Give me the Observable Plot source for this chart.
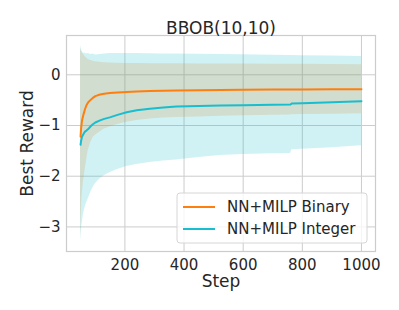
<!DOCTYPE html>
<html><head><meta charset="utf-8">
<script src="https://cdn.jsdelivr.net/npm/d3@7"></script>
<script src="https://cdn.jsdelivr.net/npm/@observablehq/plot@0.6"></script>
<style>
body{margin:0;background:#fff;}
#chart svg{font-family:"DejaVu Sans";display:block;}
</style>
</head><body><div id="chart"></div>
<script>
const title = "BBOB(10,10)";
const xLabel = "Step";
const yLabel = "Best Reward";
const seriesNames = ["NN+MILP Binary", "NN+MILP Integer"];
const seriesColors = ["#ff7f0e", "#17becf"];
const xTicks = [200, 400, 600, 800, 1000];
const yTicks = [-3, -2, -1, 0];

const steps = [50, 52, 55, 60, 65, 70, 76, 85, 93, 100, 116, 130, 149, 175, 206, 240, 284, 330, 374, 450, 523, 600, 700, 760, 765, 800, 900, 1000];

const binaryMean = [-1.22, -1.05, -0.90, -0.78, -0.68, -0.60, -0.54, -0.49, -0.45, -0.42, -0.39, -0.375, -0.36, -0.35, -0.34, -0.33, -0.32, -0.315, -0.31, -0.305, -0.30, -0.295, -0.29, -0.29, -0.29, -0.288, -0.285, -0.283];
const binaryUpper = [0.52, 0.48, 0.44, 0.40, 0.36, 0.33, 0.30, 0.28, 0.265, 0.255, 0.245, 0.24, 0.235, 0.23, 0.225, 0.222, 0.22, 0.218, 0.217, 0.215, 0.214, 0.212, 0.21, 0.208, 0.208, 0.207, 0.204, 0.20];
const binaryLower = [-3.25, -2.8, -2.4, -2.1, -1.89, -1.70, -1.49, -1.33, -1.23, -1.19, -1.13, -1.07, -1.03, -0.98, -0.935, -0.90, -0.87, -0.85, -0.84, -0.83, -0.82, -0.81, -0.80, -0.795, -0.79, -0.785, -0.78, -0.77];

const integerMean = [-1.38, -1.30, -1.22, -1.17, -1.12, -1.10, -1.07, -1.01, -0.97, -0.94, -0.90, -0.87, -0.84, -0.79, -0.74, -0.70, -0.67, -0.645, -0.625, -0.615, -0.605, -0.60, -0.59, -0.585, -0.565, -0.56, -0.54, -0.52];
const integerUpper = [0.58, 0.52, 0.47, 0.42, 0.43, 0.41, 0.42, 0.40, 0.41, 0.39, 0.40, 0.41, 0.42, 0.42, 0.42, 0.42, 0.415, 0.41, 0.41, 0.405, 0.40, 0.395, 0.385, 0.38, 0.38, 0.375, 0.37, 0.36];
const integerLower = [-3.29, -3.1, -2.95, -2.75, -2.62, -2.53, -2.45, -2.31, -2.22, -2.15, -2.05, -1.99, -1.93, -1.87, -1.81, -1.77, -1.73, -1.70, -1.68, -1.63, -1.59, -1.57, -1.555, -1.55, -1.48, -1.47, -1.44, -1.40];

const means = [binaryMean, integerMean];
const uppers = [binaryUpper, integerUpper];
const lowers = [binaryLower, integerLower];

const rows = [];
seriesNames.forEach((s, i) => {
  steps.forEach((st, j) => {
    rows.push({series: s, step: st, mean: means[i][j], lo: lowers[i][j], hi: uppers[i][j]});
  });
});

const W = 399, H = 310, mL = 66, mR = 24, mT = 35, mB = 59;
const ink = "#262626";
const fmt = d => d < 0 ? "\u2212" + Math.abs(d) : String(d);

const chart = Plot.plot({
  width: W, height: H,
  marginLeft: mL, marginRight: mR, marginTop: mT, marginBottom: mB,
  style: {fontFamily: "DejaVu Sans", fontSize: "15px", color: ink, background: "#fff"},
  x: {domain: [2.5, 1047.5], label: null},
  y: {domain: [-3.485, 0.775], label: null},
  color: {domain: seriesNames, range: seriesColors},
  marks: [
    Plot.gridX(xTicks, {stroke: "#cccccc", strokeOpacity: 1, strokeWidth: 1}),
    Plot.gridY(yTicks, {stroke: "#cccccc", strokeOpacity: 1, strokeWidth: 1}),
    Plot.areaY(rows, {x: "step", y1: "lo", y2: "hi", z: "series", fill: "series", fillOpacity: 0.2}),
    Plot.lineY(rows, {x: "step", y: "mean", z: "series", stroke: "series", strokeWidth: 2}),
    Plot.frame({stroke: "#cccccc", strokeWidth: 1.2}),
    Plot.axisX({ticks: xTicks, tickSize: 0, tickPadding: 8, fontSize: 15, label: null, tickFormat: fmt}),
    Plot.axisY({ticks: yTicks, tickSize: 0, tickPadding: 6, fontSize: 15, label: null, tickFormat: fmt}),
    Plot.text([title], {frameAnchor: "top", dy: -2, lineAnchor: "bottom", textAnchor: "middle", fontSize: 17, fill: ink}),
    Plot.text([xLabel], {frameAnchor: "bottom", dy: 35, lineAnchor: "bottom", textAnchor: "middle", fontSize: 17, fill: ink}),
    Plot.text([yLabel], {frameAnchor: "left", dx: -34, rotate: -90, lineAnchor: "bottom", textAnchor: "middle", fontSize: 17, fill: ink})
  ]
});

document.getElementById("chart").appendChild(chart);

// legend (lower right, inside the frame)
const svg = d3.select(chart);
const frameRight = W - mR, frameBottom = H - mB;
const boxW = 190, boxH = 50, inset = 8;
const bx = frameRight - inset - boxW, by = frameBottom - inset - boxH;
const lg = svg.append("g");
lg.append("rect").attr("x", bx).attr("y", by).attr("width", boxW).attr("height", boxH)
  .attr("rx", 3).attr("fill", "#fff").attr("fill-opacity", 0.8).attr("stroke", "#d6d6d6").attr("stroke-width", 1);
seriesNames.forEach((s, i) => {
  const ry = by + 14 + i * 22;
  lg.append("line").attr("x1", bx + 6).attr("x2", bx + 38).attr("y1", ry).attr("y2", ry)
    .attr("stroke", seriesColors[i]).attr("stroke-width", 2);
  lg.append("text").attr("x", bx + 50).attr("y", ry).attr("dy", "0.35em")
    .attr("text-anchor", "start")
    .attr("font-family", "DejaVu Sans").attr("font-size", 15).attr("fill", ink).text(s);
});
</script>
</body></html>
